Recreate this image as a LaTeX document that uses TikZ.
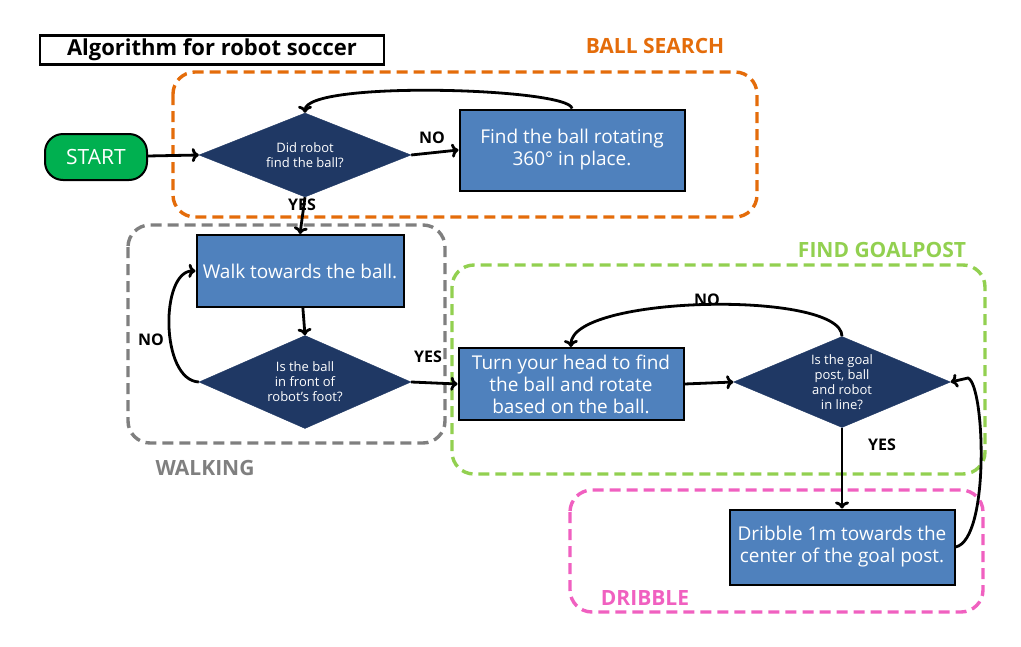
\documentclass[tikz,border=0pt]{standalone}
\usepackage{fontspec}
\setmainfont{Open Sans}
\usetikzlibrary{shapes.geometric,arrows.meta}
\definecolor{navy}{HTML}{1F3864}
\definecolor{boxblue}{HTML}{4F81BD}
\definecolor{orng}{HTML}{E46C0A}
\definecolor{grn}{HTML}{92D050}
\definecolor{pnk}{HTML}{F060C0}
\definecolor{gry}{HTML}{7F7F7F}
\definecolor{strt}{HTML}{00B050}
\tikzset{
  x=1pt,y=-1pt,
  grp/.style={draw,dashed,line width=3.4pt,dash pattern=on 11pt off 6pt,rounded corners=22pt},
  grplabel/.style={font=\fontsize{21}{24}\selectfont\bfseries},
  dec/.style={diamond,aspect=2.5,fill=navy,draw=navy,text=white,inner sep=0pt,align=center,font=\fontsize{13}{15}\selectfont},
  proc/.style={rectangle,fill=boxblue,draw=black,line width=2pt,text=white,align=center,font=\fontsize{19}{22}\selectfont},
  conn/.style={line width=2.8pt,-{To[length=7pt,width=14pt]}},
  lbl/.style={font=\fontsize{16}{18}\selectfont\bfseries},
}
\begin{document}
\begin{tikzpicture}
\useasboundingbox (0,0) rectangle (1021,646);
% groups
\draw[grp,orng] (173,72) rectangle (757,217);
\draw[grp,gry] (128,225) rectangle (445,443);
\draw[grp,grn] (452,265) rectangle (985,474);
\draw[grp,pnk] (570,490) rectangle (983,612);
\node[grplabel,orng] (lbs) at (655,46) {BALL SEARCH};
\node[grplabel,gry] (lwk) at (205,468) {WALKING};
\node[grplabel,grn] (lfg) at (882,250) {FIND GOALPOST};
\node[grplabel,pnk] (ldr) at (645,598) {DRIBBLE};
% title
\node[draw,line width=2.8pt,minimum width=344pt,minimum height=26pt,font=\fontsize{22}{24}\selectfont\bfseries] (title) at (212,50) {Algorithm for robot soccer};
% nodes
\node[rectangle,rounded corners=18pt,fill=strt,draw=black,line width=2pt,text=white,minimum width=102pt,minimum height=46pt,font=\fontsize{21}{24}\selectfont] (start) at (96,157) {START};
\node[dec,minimum width=212pt,minimum height=84pt] (d1) at (305,155) {Did robot\\find the ball?};
\node[proc,minimum width=225pt,minimum height=81pt] (find) at (572,150) {Find the ball rotating\\360° in place.};
\node[proc,minimum width=207pt,minimum height=72pt] (walk) at (300,271) {Walk towards the ball.};
\node[dec,minimum width=212pt,minimum height=93pt] (d2) at (305,382) {Is the ball\\in front of\\robot's foot?};
\node[proc,minimum width=225pt,minimum height=72pt] (turn) at (571,384) {Turn your head to find\\the ball and rotate\\based on the ball.};
\node[dec,minimum width=217pt,minimum height=91pt] (d3) at (842,382) {Is the goal\\post, ball\\and robot\\in line?};
\node[proc,minimum width=225pt,minimum height=75pt] (drib) at (842,547) {Dribble 1m towards the\\center of the goal post.};
% connectors
\draw[conn] (start) -- (d1.west);
\draw[conn] (d1.east) -- (find.west);
\node[lbl] (no1) at (432,138) {NO};
\draw[conn] (find.north) .. controls (570,88) and (305,80) .. (d1.north);
\draw[conn] (d1.south) -- (walk.north);
\node[lbl] (yes1) at (302,205) {YES};
\draw[conn] (walk) -- (d2.north);
\draw[conn] (d2.west) .. controls (160,380) and (160,270) .. (walk.west);
\node[lbl] (no2) at (151,340) {NO};
\draw[conn] (d2.east) -- (turn.west);
\node[lbl] (yes2) at (428,357) {YES};
\draw[conn] (turn.east) -- (d3.west);
\draw[conn] (d3.north) .. controls (842,290) and (570,295) .. (turn.north);
\node[lbl] (no3) at (707,300) {NO};
\draw[conn] (d3.south) -- (drib.north);
\node[lbl] (yes3) at (882,445) {YES};
\draw[conn] (drib.east) .. controls (990,540) and (985,385) .. (968,378) -- (d3.east);
\end{tikzpicture}
\end{document}
